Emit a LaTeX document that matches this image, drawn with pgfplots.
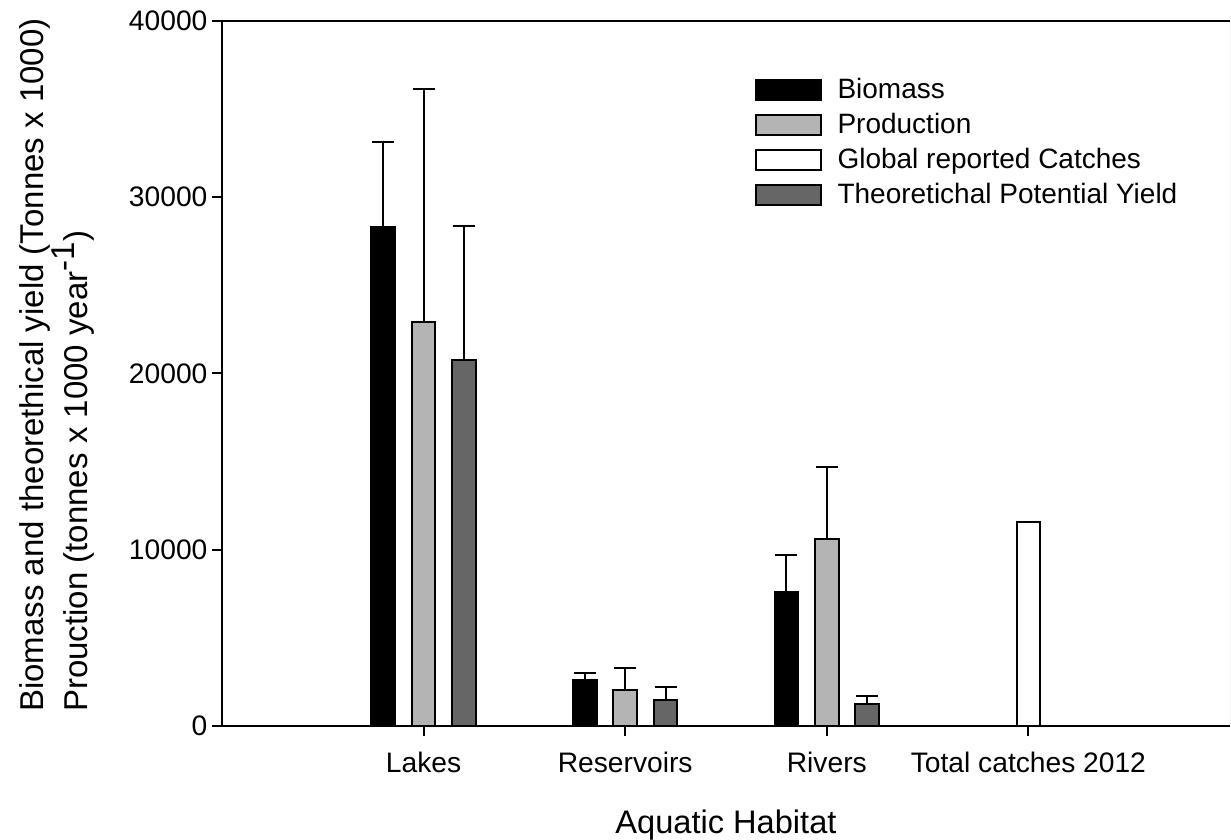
\documentclass[border=0pt]{standalone}
\usepackage{fontspec}
\setmainfont{Liberation Sans}
\usepackage{pgfplots}
\usepackage{pgfplotstable}
\pgfplotsset{compat=1.18}
\definecolor{prodgray}{RGB}{180,180,180}
\definecolor{tpygray}{RGB}{102,102,102}
\pgfplotstableread{
x y e
0.8 28300 4850
1.8 2610 380
2.8 7620 2060
}\biomass
\pgfplotstableread{
x y e
1 22940 13220
2 2060 1250
3 10590 4100
}\production
\pgfplotstableread{
x y e
1.2 20780 7570
2.2 1490 700
3.2 1250 470
}\tpy
\pgfplotstableread{
x y
4 11590
}\catches
\begin{document}
\begin{tikzpicture}
\begin{axis}[
  at={(0,0)}, anchor=south west,
  scale only axis, width=504pt, height=352.5pt,
  xmin=0, xmax=5, ymin=0, ymax=40000,
  axis x line=box, axis y line=left,
  axis line style={-, line width=1pt, black},
  xtick={1,2,3,4},
  xticklabels={Lakes,Reservoirs,Rivers,Total catches 2012},
  ytick={0,10000,20000,30000,40000},
  yticklabels={0,10000,20000,30000,40000},
  tick align=outside, tick pos=left,
  major tick length=4.8pt,
  every tick/.style={black, line width=1pt},
  ticklabel style={font=\fontsize{14.1}{16}\selectfont},
  xticklabel style={anchor=base, yshift=-18.5pt},
  yticklabel style={anchor=east, inner sep=0pt, xshift=-2.3pt},
  xlabel={Aquatic Habitat},
  xlabel style={font=\fontsize{16.3}{19}\selectfont, at={(axis description cs:0.5,0)}, anchor=base, yshift=-53.5pt},
  ylabel={Biomass and theorethical yield (Tonnes x 1000)\\Prouction (tonnes x 1000 year$^{\textrm{-1}}$)},
  ylabel style={font=\fontsize{16.5}{22}\selectfont, align=left, inner sep=0pt, at={(axis description cs:-0.2014,0.512)}, anchor=north, rotate=0},
  ybar, bar width=0.118, bar shift=0pt,
  legend cell align=left,
  legend style={at={(axis description cs:0.5283,0.9206)}, anchor=north west, draw=none, fill=none,
    inner sep=0pt, outer sep=0pt, row sep=4.5pt, column sep=8pt,
    nodes={inner sep=0pt, text height=11pt, text depth=2pt, font=\fontsize{14}{16}\selectfont}},
]
\addplot[fill=black, draw=black, line width=1pt,
  legend image code/.code={\draw[fill=black,draw=black,line width=1pt] (0pt,-5pt) rectangle (32.5pt,5pt);},
  error bars/.cd, y dir=plus, y explicit,
  error bar style={line width=1pt, black},
  error mark options={rotate=90, black, mark size=5.5pt, line width=1pt}]
  table[x=x, y=y, y error=e] {\biomass};
\addlegendentry{Biomass}
\addplot[fill=prodgray, draw=black, line width=1pt,
  legend image code/.code={\draw[fill=prodgray,draw=black,line width=1pt] (0pt,-5pt) rectangle (32.5pt,5pt);},
  error bars/.cd, y dir=plus, y explicit,
  error bar style={line width=1pt, black},
  error mark options={rotate=90, black, mark size=5.5pt, line width=1pt}]
  table[x=x, y=y, y error=e] {\production};
\addlegendentry{Production}
\addplot[fill=white, draw=black, line width=1pt,
  legend image code/.code={\draw[fill=white,draw=black,line width=1pt] (0pt,-5pt) rectangle (32.5pt,5pt);}]
  table[x=x, y=y] {\catches};
\addlegendentry{Global reported Catches}
\addplot[fill=tpygray, draw=black, line width=1pt,
  legend image code/.code={\draw[fill=tpygray,draw=black,line width=1pt] (0pt,-5pt) rectangle (32.5pt,5pt);},
  error bars/.cd, y dir=plus, y explicit,
  error bar style={line width=1pt, black},
  error mark options={rotate=90, black, mark size=5.5pt, line width=1pt}]
  table[x=x, y=y, y error=e] {\tpy};
\addlegendentry{Theoretichal Potential Yield}
\draw[black!45, line width=0.5pt] (rel axis cs:1,0) -- (rel axis cs:1,1);
\end{axis}
\pgfresetboundingbox
\path[use as bounding box] (-111pt,-57pt) rectangle (504.5pt,363pt);
\end{tikzpicture}
\end{document}
